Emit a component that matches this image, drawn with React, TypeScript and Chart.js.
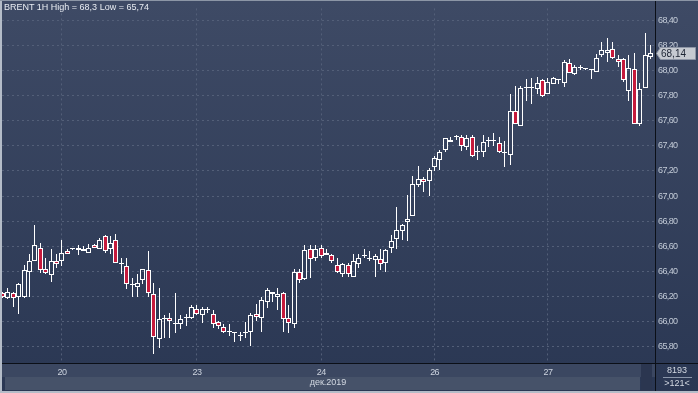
import React, { useEffect, useRef } from 'react';
import { Chart, registerables } from 'chart.js';

Chart.register(...registerables);

// ---- data (hourly candles, BRENT 1H) ----
const opens = [
  66.23, 66.19, 66.23, 66.20, 66.20, 66.40, 66.48, 66.59, 66.42, 66.37,
  66.48, 66.48, 66.56, 66.58, 66.59, 66.58, 66.55, 66.61, 66.58, 66.68,
  66.58, 66.65, 66.47, 66.44, 66.29, 66.28, 66.33, 66.41, 66.22, 65.86,
  66.02, 66.03, 65.99, 65.98, 66.03, 66.03, 66.10, 66.05, 66.09, 66.06,
  66.00, 65.96, 65.92, 65.91, 65.89, 65.91, 65.92, 66.06, 66.03, 66.16,
  66.24, 66.20, 66.23, 66.03, 65.98, 66.40, 66.34, 66.58, 66.51, 66.59,
  66.53, 66.53, 66.45, 66.38, 66.45, 66.36, 66.46, 66.52, 66.51, 66.49,
  66.50, 66.47, 66.59, 66.66, 66.72, 66.79, 66.84, 67.09, 67.14, 67.12,
  67.23, 67.29, 67.37, 67.43, 67.47, 67.47, 67.39, 67.47, 67.35, 67.35,
  67.44, 67.44, 67.42, 67.35, 67.33, 67.68, 67.56, 67.86, 67.86, 67.85,
  67.92, 67.81, 67.89, 67.93, 67.90, 68.06, 67.97, 68.02, 68.01, 68.00,
  67.99, 68.12, 68.14, 68.17, 68.09, 68.09, 67.84, 68.01, 67.57, 67.86,
  68.11,
];
const highs = [
  66.24, 66.27, 66.24, 66.31, 66.45, 66.54, 66.77, 66.63, 66.51, 66.58,
  66.54, 66.65, 66.58, 66.59, 66.61, 66.60, 66.62, 66.62, 66.67, 66.69,
  66.68, 66.70, 66.51, 66.51, 66.35, 66.38, 66.42, 66.56, 66.31, 66.27,
  66.05, 66.07, 66.23, 66.05, 66.06, 66.13, 66.13, 66.12, 66.12, 66.09,
  66.01, 65.98, 65.98, 65.92, 65.92, 66.00, 66.07, 66.14, 66.20, 66.27,
  66.24, 66.27, 66.24, 66.13, 66.42, 66.42, 66.61, 66.61, 66.61, 66.61,
  66.58, 66.54, 66.51, 66.47, 66.47, 66.54, 66.54, 66.58, 66.56, 66.54,
  66.58, 66.58, 66.69, 66.91, 66.78, 67.01, 67.16, 67.24, 67.15, 67.22,
  67.32, 67.37, 67.46, 67.47, 67.49, 67.49, 67.49, 67.49, 67.40, 67.49,
  67.47, 67.50, 67.47, 67.44, 67.81, 67.88, 67.88, 67.93, 67.94, 67.95,
  67.93, 67.94, 67.95, 67.93, 68.08, 68.09, 68.04, 68.04, 68.02, 68.01,
  68.13, 68.23, 68.26, 68.23, 68.12, 68.10, 68.12, 68.14, 67.90, 68.30,
  68.20,
];
const lows = [
  66.19, 66.18, 66.12, 66.06, 66.19, 66.20, 66.48, 66.39, 66.38, 66.32,
  66.43, 66.44, 66.54, 66.57, 66.53, 66.56, 66.55, 66.59, 66.58, 66.55,
  66.54, 66.47, 66.38, 66.26, 66.20, 66.20, 66.30, 66.20, 65.74, 65.79,
  65.87, 65.87, 65.91, 65.94, 65.97, 66.02, 66.05, 65.99, 66.07, 65.95,
  65.94, 65.91, 65.89, 65.84, 65.85, 65.87, 65.81, 66.01, 65.92, 66.11,
  66.16, 66.09, 65.92, 65.91, 65.95, 66.31, 66.33, 66.35, 66.48, 66.51,
  66.53, 66.47, 66.39, 66.36, 66.36, 66.36, 66.43, 66.51, 66.48, 66.36,
  66.41, 66.40, 66.55, 66.58, 66.65, 66.64, 66.84, 67.07, 67.03, 67.00,
  67.20, 67.21, 67.35, 67.43, 67.45, 67.36, 67.37, 67.31, 67.29, 67.31,
  67.39, 67.40, 67.34, 67.23, 67.25, 67.57, 67.56, 67.76, 67.73, 67.81,
  67.79, 67.81, 67.89, 67.89, 67.87, 67.98, 67.96, 68.00, 68.00, 67.93,
  67.99, 68.11, 68.07, 68.09, 68.03, 67.91, 67.76, 67.57, 67.56, 67.86,
  68.09,
];
const closes = [
  66.20, 66.24, 66.19, 66.30, 66.41, 66.48, 66.61, 66.41, 66.39, 66.48,
  66.46, 66.55, 66.54, 66.58, 66.57, 66.56, 66.59, 66.59, 66.65, 66.56,
  66.63, 66.47, 66.46, 66.30, 66.29, 66.31, 66.42, 66.23, 65.88, 66.02,
  66.02, 66.01, 65.98, 66.02, 66.03, 66.12, 66.06, 66.10, 66.09, 65.98,
  65.97, 65.92, 65.92, 65.91, 65.89, 65.91, 66.05, 66.04, 66.17, 66.25,
  66.22, 66.22, 66.02, 65.99, 66.40, 66.33, 66.57, 66.50, 66.58, 66.52,
  66.55, 66.48, 66.40, 66.46, 66.38, 66.48, 66.51, 66.52, 66.50, 66.52,
  66.46, 66.57, 66.64, 66.73, 66.77, 66.82, 67.10, 67.14, 67.11, 67.21,
  67.30, 67.35, 67.46, 67.45, 67.47, 67.40, 67.46, 67.32, 67.35, 67.43,
  67.44, 67.44, 67.35, 67.34, 67.68, 67.57, 67.86, 67.86, 67.86, 67.90,
  67.80, 67.91, 67.94, 67.92, 68.07, 67.98, 68.03, 68.02, 68.01, 68.00,
  68.10, 68.16, 68.16, 68.10, 68.07, 67.92, 68.02, 67.57, 67.85, 68.12,
  68.14,
];

const yTickValues = [65.8, 66.0, 66.2, 66.4, 66.6, 66.8, 67.0, 67.2, 67.4, 67.6, 67.8, 68.0, 68.2, 68.4];
const xTickIndex = [11, 36, 59, 80, 101];
const xTickLabels = ['20', '23', '24', '26', '27'];
const symbolName = 'BRENT 1H';
const monthLabel = 'дек.2019';
const barsTotalLabel = '8193';
const barsVisibleLabel = '>121<';

const RED = '#c51a3c';
const SANS = "'Liberation Sans', Arial, sans-serif";

function fmt(v: number) {
  return String(Number(v.toFixed(2))).replace('.', ',');
}

export default function App() {
  const ref = useRef<HTMLCanvasElement>(null);

  useEffect(() => {
    document.body.style.margin = '0';
    const canvas = ref.current;
    if (!canvas) return;
    const idx = opens.map((_, i) => i);
    const bodyData = idx.map((i) => ({ x: i, y: [opens[i], closes[i]] }));
    const upperWick = idx.map((i) => ({ x: i, y: [Math.max(opens[i], closes[i]), highs[i]] }));
    const lowerWick = idx.map((i) => ({ x: i, y: [lows[i], Math.min(opens[i], closes[i])] }));
    const bodyFill = idx.map((i) => (closes[i] < opens[i] ? RED : 'rgba(0,0,0,0)'));

    const bgPlugin = {
      id: 'bgPlugin',
      beforeDraw(chart: any) {
        const { ctx, width, height, chartArea } = chart;
        ctx.save();
        const g = ctx.createLinearGradient(0, 0, 0, height);
        g.addColorStop(0, '#3e4a65');
        g.addColorStop(1, '#2a3753');
        ctx.fillStyle = g;
        ctx.fillRect(0, 0, width, height);
        const l = chartArea.left;
        const w = chartArea.right - chartArea.left;
        const b = chartArea.bottom;
        ctx.fillStyle = '#3b4761';
        ctx.fillRect(l, b, w, 14);
        ctx.fillStyle = '#465269';
        ctx.fillRect(l + 3, b + 14, w - 18, 13);
        ctx.fillStyle = '#2b3650';
        ctx.fillRect(chartArea.right - 14, b + 1, 11, 27);
        ctx.restore();
        // slightly condensed axis text
        try { (ctx as any).letterSpacing = '-0.6px'; } catch (e) { /* ignore */ }
      },
      beforeDatasetsDraw(chart: any) {
        chart.data.datasets.forEach((_: any, di: number) => {
          const meta = chart.getDatasetMeta(di);
          meta.data.forEach((el: any) => {
            el.x = Math.floor(el.x) + 0.5;
            el.y = Math.round(el.y);
            el.base = Math.round(el.base);
          });
        });
      },
      afterDraw(chart: any) {
        const { ctx, width, height, chartArea } = chart;
        ctx.save();
        try { (ctx as any).letterSpacing = '0px'; } catch (e) { /* ignore */ }
        ctx.strokeStyle = '#0b0f17';
        ctx.lineWidth = 1;
        ctx.beginPath();
        ctx.moveTo(Math.round(chartArea.right) + 0.5, 0);
        ctx.lineTo(Math.round(chartArea.right) + 0.5, height);
        ctx.moveTo(0, Math.round(chartArea.bottom) + 0.5);
        ctx.lineTo(width, Math.round(chartArea.bottom) + 0.5);
        ctx.stroke();
        // divider in the bottom-right box
        ctx.strokeStyle = '#8a96aa';
        ctx.beginPath();
        ctx.moveTo(663, 377.5);
        ctx.lineTo(692, 377.5);
        ctx.stroke();
        // outer frame
        ctx.fillStyle = '#b4bcc8';
        ctx.fillRect(0, 0, 2, height);
        ctx.fillRect(0, height - 2, width, 2);
        ctx.fillStyle = '#8c96a6';
        ctx.fillRect(0, 0, width, 1);
        // last price tag
        const yS = chart.scales.y;
        const last = closes[closes.length - 1];
        const py = Math.round(yS.getPixelForValue(last));
        const x0 = Math.round(chartArea.right) + 1;
        ctx.fillStyle = '#c6cad1';
        ctx.strokeStyle = '#8e96a6';
        ctx.beginPath();
        ctx.moveTo(x0 + 0.5, py + 0.5);
        ctx.lineTo(x0 + 4.5, py - 5.5);
        ctx.lineTo(695.5, py - 5.5);
        ctx.lineTo(695.5, py + 6.5);
        ctx.lineTo(x0 + 4.5, py + 6.5);
        ctx.closePath();
        ctx.fill();
        ctx.stroke();
        ctx.fillStyle = '#1c2433';
        ctx.font = '10px ' + SANS;
        ctx.textBaseline = 'middle';
        ctx.textAlign = 'left';
        ctx.fillText(fmt(last), x0 + 5, py + 1);
        ctx.restore();
      },
    };

    const common = { grouped: false, inflateAmount: 0, borderSkipped: false };

    const chart = new Chart(canvas, {
      type: 'bar',
      data: {
        datasets: [
          {
            label: 'body',
            data: bodyData as any,
            backgroundColor: bodyFill,
            borderColor: '#ffffff',
            borderWidth: 1,
            barThickness: 5,
            minBarLength: 1,
            order: 0,
            ...common,
          } as any,
          {
            label: 'upper wick',
            data: upperWick as any,
            backgroundColor: '#ffffff',
            borderWidth: 0,
            barThickness: 1,
            order: 1,
            ...common,
          } as any,
          {
            label: 'lower wick',
            data: lowerWick as any,
            backgroundColor: '#ffffff',
            borderWidth: 0,
            barThickness: 1,
            order: 2,
            ...common,
          } as any,
        ],
      },
      options: {
        responsive: false,
        maintainAspectRatio: false,
        animation: false,
        devicePixelRatio: 1,
        events: [],
        layout: { padding: { left: 2, top: 1, right: 0, bottom: 0 } },
        plugins: { legend: { display: false }, tooltip: { enabled: false }, title: { display: false } },
        scales: {
          x: {
            type: 'linear',
            min: -0.111,
            max: 120.815,
            offset: false,
            position: 'bottom',
            afterFit(scale: any) {
              scale.height = 30;
            },
            afterBuildTicks(scale: any) {
              scale.ticks = xTickIndex.map((v) => ({ value: v }));
            },
            grid: { color: '#535f78', drawTicks: false, offset: false, lineWidth: 1 },
            border: { display: false, dash: [2, 3] },
            ticks: {
              padding: 4,
              autoSkip: false,
              maxRotation: 0,
              color: '#ccd3de',
              font: { family: SANS, size: 9 },
              callback: (_v: any, i: number) => xTickLabels[i],
            },
          },
          y: {
            type: 'linear',
            position: 'right',
            min: 65.672,
            max: 68.4935,
            beginAtZero: false,
            afterFit(scale: any) {
              scale.width = 43;
            },
            afterBuildTicks(scale: any) {
              scale.ticks = yTickValues.map((v) => ({ value: v }));
            },
            grid: { color: '#535f78', drawTicks: false, lineWidth: 1 },
            border: { display: false, dash: [2, 3] },
            ticks: {
              padding: 3,
              color: '#c4ccd8',
              font: { family: SANS, size: 9 },
              callback: (v: any) => Number(v).toFixed(2).replace('.', ','),
            },
          },
        },
      } as any,
      plugins: [bgPlugin],
    });
    return () => chart.destroy();
  }, []);

  const hi = Math.max(...highs);
  const lo = Math.min(...lows);
  const title = `${symbolName} High = ${fmt(hi)} Low = ${fmt(lo)}`;

  const txt: React.CSSProperties = {
    position: 'absolute',
    fontFamily: SANS,
    fontSize: 9,
    lineHeight: '11px',
    whiteSpace: 'nowrap',
  };

  return (
    <div style={{ position: 'relative', width: 698, height: 393, overflow: 'hidden' }}>
      <canvas ref={ref} width={698} height={393} style={{ display: 'block' }} />
      <div style={{ ...txt, left: 4, top: 2, color: '#e8ecf2' }}>{title}</div>
      <div style={{ ...txt, left: 300, width: 56, textAlign: 'center', top: 377, color: '#d3d9e2' }}>{monthLabel}</div>
      <div style={{ ...txt, left: 660, width: 34, textAlign: 'center', top: 365, color: '#d3d9e2' }}>{barsTotalLabel}</div>
      <div style={{ ...txt, left: 660, width: 34, textAlign: 'center', top: 378, color: '#d3d9e2' }}>{barsVisibleLabel}</div>
    </div>
  );
}
